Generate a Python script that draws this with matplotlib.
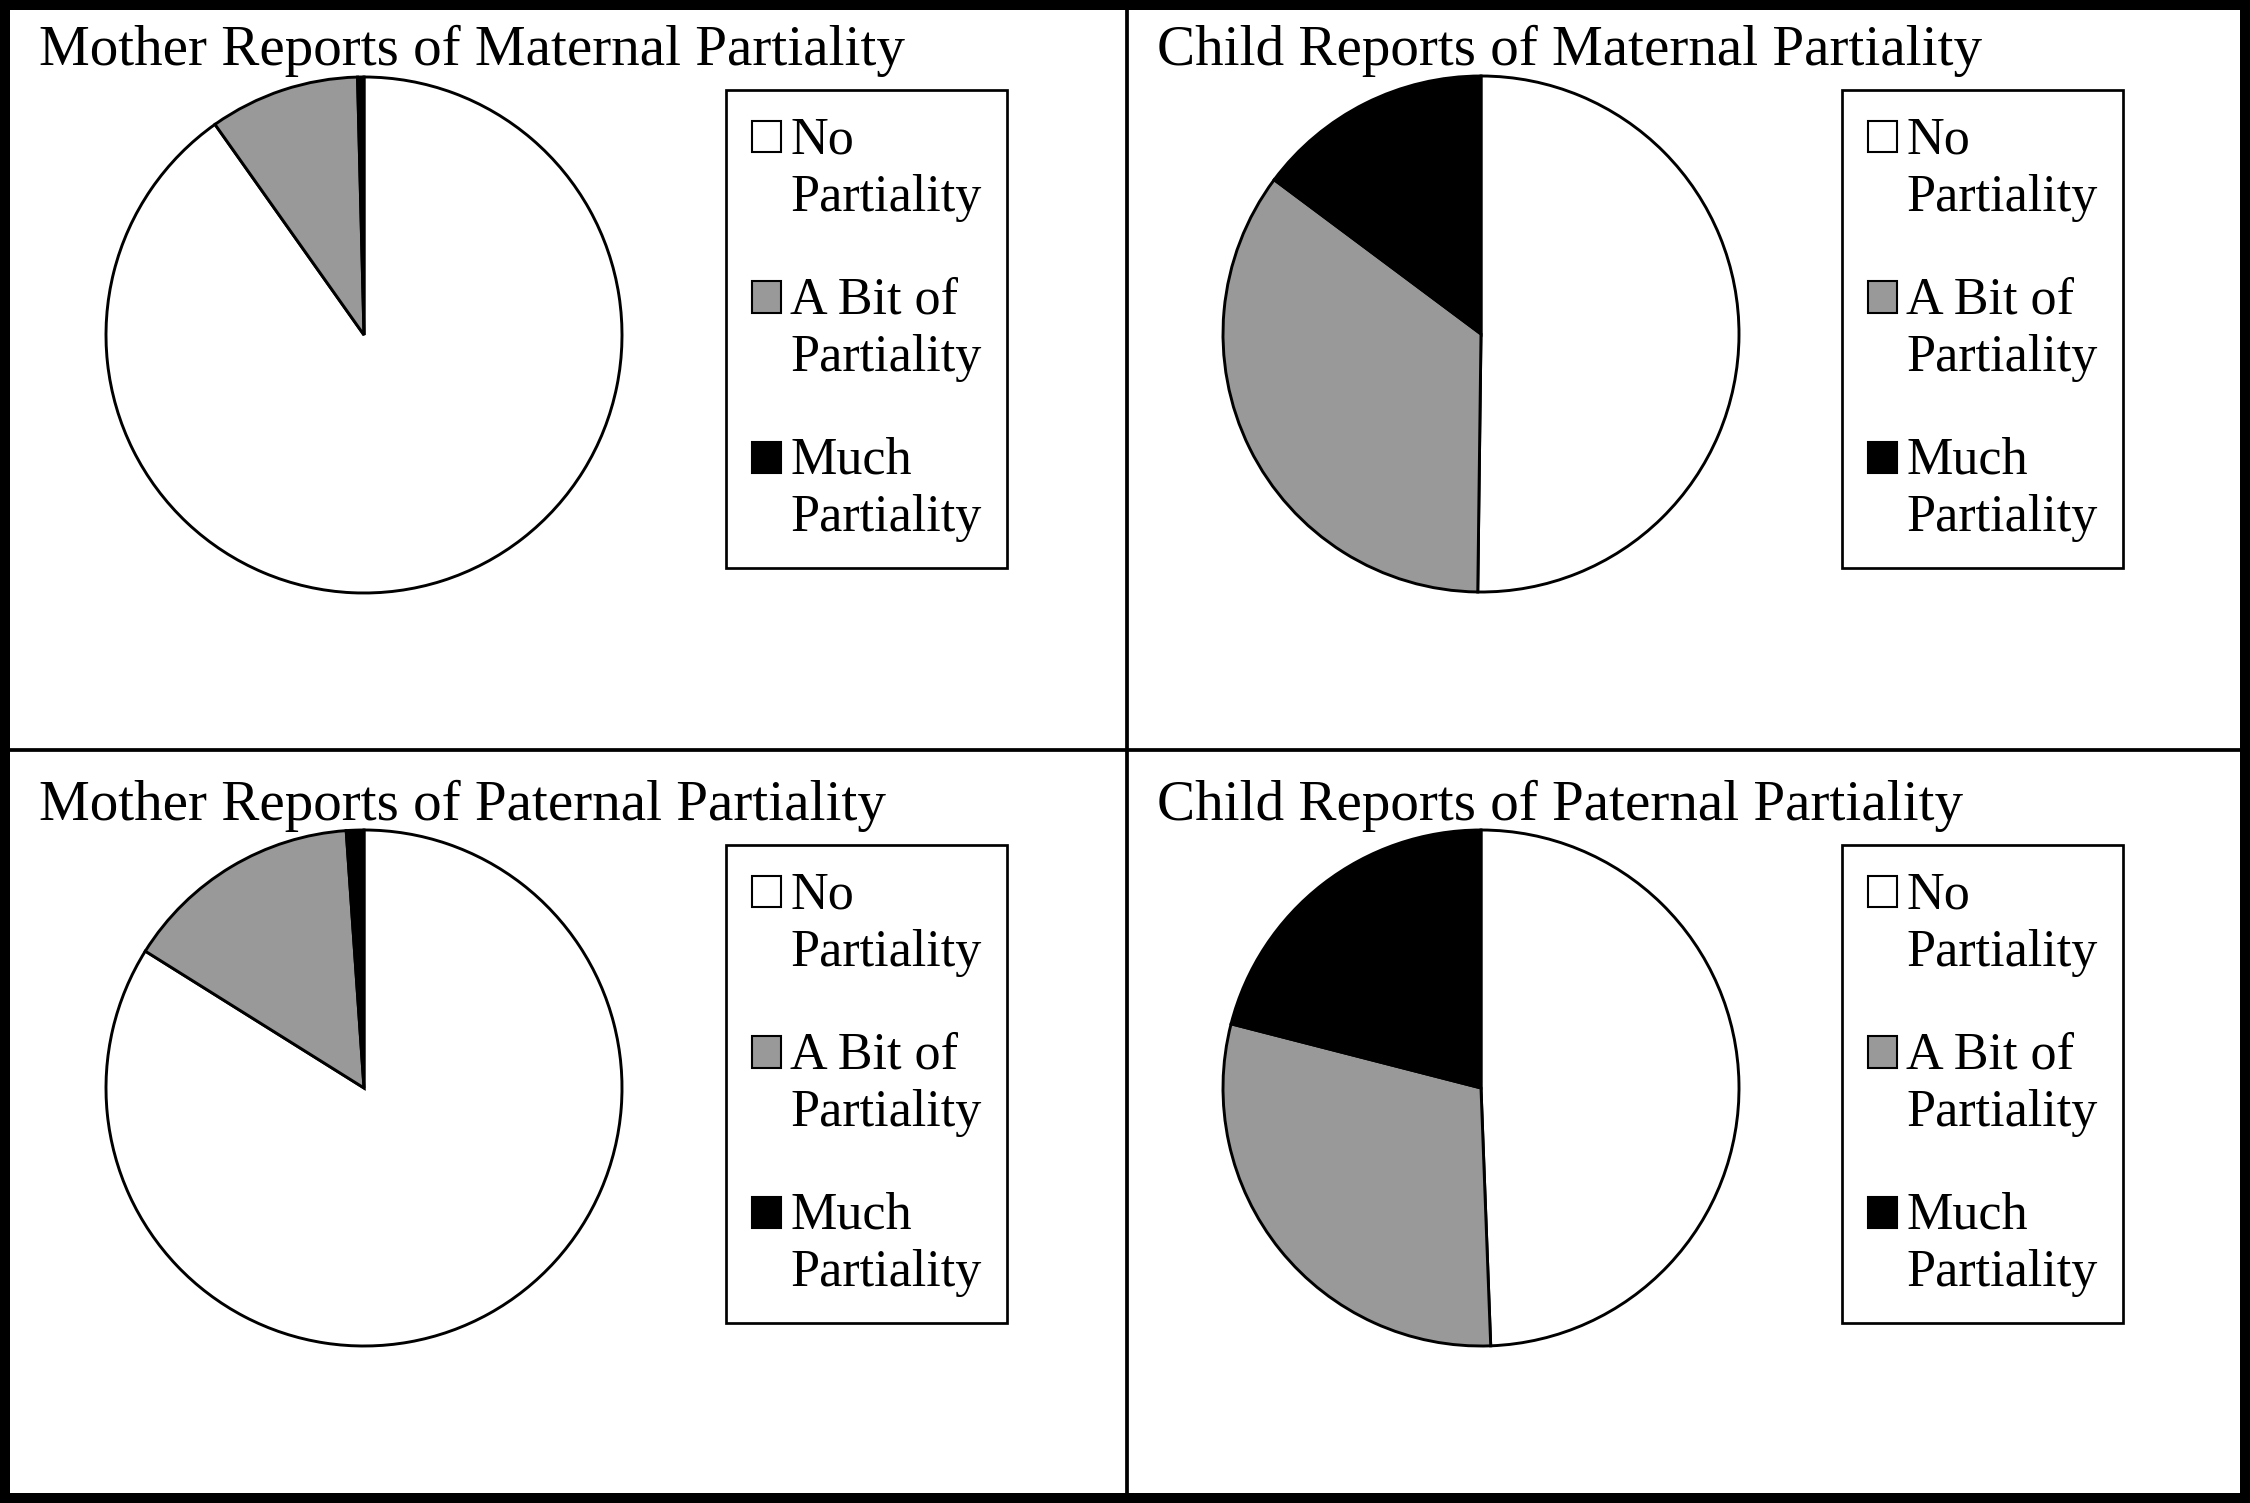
import matplotlib
matplotlib.use('Agg')
from matplotlib import pyplot as plt
from matplotlib.patches import Patch, Rectangle
from matplotlib.legend_handler import HandlerPatch
from matplotlib.lines import Line2D

plt.rcParams['font.family'] = ['Liberation Serif', 'DejaVu Serif']

# Доли ответов (в процентах), по часовой стрелке от 12 часов
labels = ['No\nPartiality', 'A Bit of\nPartiality', 'Much\nPartiality']
colors = ['white', '#999999', 'black']

mother_maternal = [90.2, 9.4, 0.4]
child_maternal = [50.2, 35.0, 14.8]
mother_paternal = [83.9, 15.0, 1.1]
child_paternal = [49.4, 29.6, 21.0]

titles = ['Mother Reports of Maternal Partiality',
          'Child Reports of Maternal Partiality',
          'Mother Reports of Paternal Partiality',
          'Child Reports of Paternal Partiality']
series = [mother_maternal, child_maternal, mother_paternal, child_paternal]

W, H = 2250, 1503
fig = plt.figure(figsize=(W / 150, H / 150), dpi=150)
fig.patch.set_facecolor('white')

# Расположение панелей в пикселях: центр круга, заголовок, легенда
R = 258
centers = [(364, 335), (1481, 334), (364, 1088), (1481, 1088)]
title_pos = [(39, 65), (1157, 65), (39, 820), (1157, 820)]
legend_pos = [(726, 90), (1842, 90), (726, 845), (1842, 845)]


def square(legend, orig_handle, xdescent, ydescent, width, height, fontsize):
    # квадратик легенды на уровне первой строки подписи
    return Rectangle((-xdescent, -ydescent + 0.62 * fontsize), width, height)


for vals, title, (cx, cy), (tx, ty), (lx, ly) in zip(series, titles, centers, title_pos, legend_pos):
    ax = fig.add_axes([(cx - R) / W, 1 - (cy + R) / H, 2 * R / W, 2 * R / H])
    ax.pie(vals, colors=colors, startangle=90, counterclock=False,
           wedgeprops=dict(edgecolor='black', linewidth=1.4))
    ax.set_xlim(-1.0, 1.0)
    ax.set_ylim(-1.0, 1.0)
    ax.set_aspect('equal')
    ax.axis('off')

    fig.text(tx / W, 1 - ty / H, title, fontsize=27.4, va='baseline', ha='left')

    handles = [Patch(facecolor=c, edgecolor='black', linewidth=1.0) for c in colors]
    leg = fig.legend(handles, labels, loc='upper left',
                     bbox_to_anchor=(lx / W, 1 - ly / H), borderaxespad=0,
                     prop={'size': 25}, frameon=True, fancybox=False, framealpha=1,
                     edgecolor='black', handlelength=0.55, handleheight=0.55,
                     handletextpad=0.18, labelspacing=1.05, borderpad=0.5,
                     handler_map={Patch: HandlerPatch(patch_func=square)})
    for t in leg.get_texts():
        t.set_linespacing(1.26)
    leg.get_frame().set_linewidth(1.3)

# Рамки между панелями
fig.add_artist(Line2D([1127 / W, 1127 / W], [0, 1], color='black', linewidth=1.8))
fig.add_artist(Line2D([0, 1], [1 - 750 / H, 1 - 750 / H], color='black', linewidth=1.8))
fig.add_artist(Rectangle((5 / W, 5 / H), 1 - 10 / W, 1 - 10 / H, fill=False,
                         edgecolor='black', linewidth=4.8, transform=fig.transFigure))

plt.savefig('out.png', dpi=150, facecolor='white')
